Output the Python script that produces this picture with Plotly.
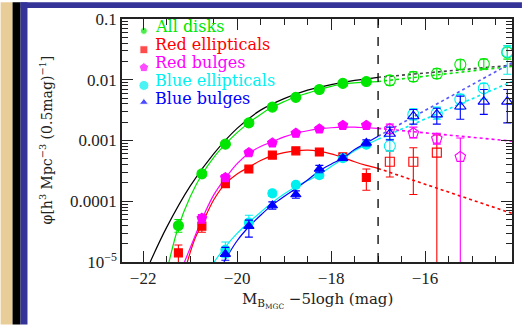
import numpy as np
import plotly.graph_objects as go

# ---------------- data (log10 phi per 0.5 mag bin) ----------------
# All disks
disk_M = [-21.25, -20.75, -20.25, -19.75, -19.25, -18.75, -18.25, -17.75, -17.25]
disk_logphi = [-4.40, -3.55, -3.06, -2.71, -2.45, -2.29, -2.16, -2.06, -2.03]
disk_lo = [-4.51, -3.59, -3.09, -2.73, -2.47, -2.31, -2.18, -2.08, -2.05]
disk_hi = [-4.30, -3.51, -3.03, -2.69, -2.43, -2.27, -2.14, -2.04, -2.01]
disk_faint_M = [-16.75, -16.25, -15.75, -15.25, -14.75, -14.25]
disk_faint_logphi = [-2.01, -1.95, -1.90, -1.75, -1.74, -1.55]
disk_faint_lo = [-2.09, -2.03, -1.98, -1.83, -1.82, -1.66]
disk_faint_hi = [-1.93, -1.87, -1.82, -1.67, -1.66, -1.44]

# Red ellipticals
rell_M = [-21.25, -20.75, -20.25, -19.75, -19.25, -18.75, -18.25, -17.75, -17.25]
rell_logphi = [-4.85, -4.41, -3.71, -3.47, -3.24, -3.17, -3.19, -3.27, -3.61]
rell_lo = [-5.05, -4.51, -3.76, -3.51, -3.28, -3.21, -3.23, -3.31, -3.82]
rell_hi = [-4.72, -4.31, -3.66, -3.43, -3.21, -3.13, -3.15, -3.23, -3.47]
rell_faint_M = [-16.75, -16.25, -15.75]
rell_faint_logphi = [-3.35, -3.35, -3.20]
rell_faint_lo = [-3.60, -3.89, -7.0]
rell_faint_hi = [-3.17, -3.12, -2.91]

# Red bulges
rbul_M = [-20.75, -20.25, -19.75, -19.25, -18.75, -18.25, -17.75, -17.25]
rbul_logphi = [-4.28, -3.61, -3.20, -3.04, -2.88, -2.81, -2.75, -2.75]
rbul_lo = [-4.36, -3.66, -3.24, -3.07, -2.91, -2.84, -2.78, -2.78]
rbul_hi = [-4.22, -3.56, -3.16, -3.01, -2.85, -2.78, -2.72, -2.72]
rbul_faint_M = [-16.75, -16.25, -15.75, -15.25]
rbul_faint_logphi = [-2.81, -2.88, -2.97, -3.27]
rbul_faint_lo = [-2.89, -2.96, -3.06, -7.0]
rbul_faint_hi = [-2.73, -2.78, -2.88, -2.96]

# Blue ellipticals
bell_M = [-20.25, -19.75, -19.25, -18.75, -18.25, -17.75, -17.25]
bell_logphi = [-4.80, -4.35, -3.87, -3.73, -3.57, -3.29, -3.07]
bell_lo = [-4.93, -4.44, -3.92, -3.77, -3.62, -3.33, -3.11]
bell_hi = [-4.67, -4.23, -3.82, -3.69, -3.52, -3.25, -3.03]
bell_faint_M = [-16.75, -16.25, -15.75, -15.25, -14.75, -14.25]
bell_faint_logphi = [-3.09, -2.57, -2.55, -2.32, -2.14, -1.54]
bell_faint_lo = [-3.17, -2.66, -2.65, -2.49, -2.32, -1.91]
bell_faint_hi = [-2.98, -2.48, -2.45, -2.24, -2.06, -1.44]

# Blue bulges
bbul_M = [-20.25, -19.75, -19.25, -18.75, -18.25, -17.75, -17.25]
bbul_logphi = [-4.87, -4.41, -4.07, -3.89, -3.47, -3.29, -3.04]
bbul_lo = [-4.97, -4.59, -4.13, -3.95, -3.53, -3.33, -3.09]
bbul_hi = [-4.76, -4.31, -4.01, -3.83, -3.41, -3.25, -2.99]
bbul_faint_M = [-16.75, -16.25, -15.75, -15.25, -14.75, -14.25]
bbul_faint_logphi = [-2.89, -2.60, -2.57, -2.44, -2.36, -2.36]
bbul_faint_lo = [-2.99, -2.73, -2.73, -2.65, -2.57, -2.71]
bbul_faint_hi = [-2.78, -2.49, -2.47, -2.27, -2.16, -2.16]

# Fitted luminosity functions (solid, bright of the limit)
total_fit_M = [-21.85, -21.5, -21.0, -20.5, -20.0, -19.5, -19.0, -18.5, -18.0, -17.5, -17.0]
total_fit_logphi = [-5.0, -4.43, -3.75, -3.22, -2.80, -2.50, -2.31, -2.17, -2.08, -2.01, -1.96]
disk_fit_M = [-21.45, -21.25, -21.0, -20.75, -20.5, -20.25, -20.0, -19.75, -19.5, -19.25,
              -19.0, -18.75, -18.5, -18.25, -18.0, -17.75, -17.5, -17.25, -17.0]
disk_fit_logphi = [-5.0, -4.42, -3.93, -3.56, -3.28, -3.06, -2.87, -2.71, -2.57, -2.45,
                   -2.36, -2.28, -2.22, -2.16, -2.11, -2.07, -2.05, -2.04, -2.03]
rell_fit_M = [-21.06, -20.9, -20.75, -20.5, -20.25, -20.0, -19.75, -19.5, -19.25, -19.0,
              -18.75, -18.5, -18.25, -18.0, -17.75, -17.5, -17.25, -17.0]
rell_fit_logphi = [-5.0, -4.62, -4.38, -3.98, -3.71, -3.55, -3.44, -3.33, -3.25, -3.20,
                   -3.17, -3.16, -3.18, -3.22, -3.28, -3.35, -3.41, -3.46]
rbul_fit_M = [-21.12, -20.9, -20.75, -20.5, -20.25, -20.0, -19.75, -19.5, -19.25, -19.0,
              -18.75, -18.5, -18.25, -18.0, -17.75, -17.5, -17.25, -17.0]
rbul_fit_logphi = [-5.0, -4.58, -4.30, -3.90, -3.62, -3.38, -3.21, -3.10, -3.02, -2.94,
                   -2.88, -2.84, -2.81, -2.79, -2.78, -2.78, -2.79, -2.80]
bell_fit_M = [-20.49, -20.25, -20.0, -19.75, -19.5, -19.25, -19.0, -18.75, -18.5, -18.25,
              -18.0, -17.75, -17.5, -17.25, -17.0]
bell_fit_logphi = [-5.0, -4.75, -4.53, -4.35, -4.18, -4.02, -3.88, -3.76, -3.66, -3.56,
                   -3.43, -3.30, -3.17, -3.07, -2.98]
bbul_fit_M = [-20.28, -20.0, -19.75, -19.5, -19.25, -19.0, -18.75, -18.5, -18.25, -18.0,
              -17.75, -17.5, -17.25, -17.0]
bbul_fit_logphi = [-5.0, -4.65, -4.42, -4.23, -4.06, -3.92, -3.79, -3.65, -3.50, -3.39,
                   -3.29, -3.15, -3.04, -2.93]

# Extrapolations faint of the limit (dotted)
extrap_M = [-17.0, -14.15]
total_extrap_logphi = [-1.96, -1.76]
disk_extrap_logphi = [-2.03, -1.78]
rell_extrap_logphi = [-3.46, -4.20]
rbul_extrap_logphi = [-2.80, -3.01]
bell_extrap_logphi = [-2.98, -2.03]
bbul_extrap_logphi = [-2.93, -1.72]

mag_limit = -17.0

x_ticks = [-22, -20, -18, -16]
y_ticks = [1e-5, 1e-4, 1e-3, 1e-2, 1e-1]
y_ticktext = ["10<sup>\u22125</sup>", "0.0001", "0.001", "0.01", "0.1"]

legend_names = ["All disks", "Red ellipticals", "Red bulges", "Blue ellipticals", "Blue bulges"]

# ---------------- styling ----------------
GREEN, RED, MAGENTA, CYAN, BLUE = "#00e600", "#ff0000", "#ff00ff", "#00f0f0", "#0000ff"
W, H = 524, 325
ML, MR, MT, MB = 122, 10, 17, 63
PW, PH = W - ML - MR, H - MT - MB


def px_x(px):
    return (px - ML) / PW


def px_y(py):
    return (H - MB - py) / PH


def lin(v):
    return [10.0 ** a for a in v]


def errs(v, lo, hi):
    plus = [10.0 ** h - 10.0 ** c for c, h in zip(v, hi)]
    minus = [10.0 ** c - 10.0 ** l for c, l in zip(v, lo)]
    return plus, minus


fig = go.Figure()


def add_line(M, logphi, color, dash="solid", width=1.2):
    fig.add_trace(go.Scatter(x=M, y=lin(logphi), mode="lines", line_shape="spline",
                             line=dict(color=color, width=width, dash=dash),
                             showlegend=False, hoverinfo="skip"))


def add_points(M, logphi, lo, hi, color, symbol, size):
    plus, minus = errs(logphi, lo, hi)
    fig.add_trace(go.Scatter(
        x=M, y=lin(logphi), mode="markers",
        marker=dict(color=color, symbol=symbol, size=size,
                    line=dict(color=color, width=1.1)),
        error_y=dict(type="data", symmetric=False, array=plus, arrayminus=minus,
                     color=color, thickness=1.1, width=4),
        showlegend=False))


# fitted curves
add_line(total_fit_M, total_fit_logphi, "#000000", width=1.2)
add_line(disk_fit_M, disk_fit_logphi, GREEN)
add_line(rell_fit_M, rell_fit_logphi, RED)
add_line(rbul_fit_M, rbul_fit_logphi, MAGENTA)
add_line(bell_fit_M, bell_fit_logphi, CYAN)
add_line(bbul_fit_M, bbul_fit_logphi, BLUE)

# extrapolations
add_line(extrap_M, total_extrap_logphi, "#444444", dash="dot", width=1.6)
add_line(extrap_M, disk_extrap_logphi, GREEN, dash="dot", width=1.6)
add_line(extrap_M, rell_extrap_logphi, RED, dash="dot", width=1.6)
add_line(extrap_M, rbul_extrap_logphi, MAGENTA, dash="dot", width=1.6)
add_line(extrap_M, bell_extrap_logphi, CYAN, dash="dot", width=1.6)
add_line(extrap_M, bbul_extrap_logphi, "#5555ff", dash="dot", width=1.6)

# faint (open) points
add_points(disk_faint_M, disk_faint_logphi, disk_faint_lo, disk_faint_hi, GREEN, "circle-open", 11)
add_points(rell_faint_M, rell_faint_logphi, rell_faint_lo, rell_faint_hi, RED, "square-open", 9)
add_points(rbul_faint_M, rbul_faint_logphi, rbul_faint_lo, rbul_faint_hi, MAGENTA, "pentagon-open", 11)
add_points(bell_faint_M, bell_faint_logphi, bell_faint_lo, bell_faint_hi, CYAN, "circle-open", 11)
add_points(bbul_faint_M, bbul_faint_logphi, bbul_faint_lo, bbul_faint_hi, BLUE, "triangle-up-open", 10)

# bright (filled) points
add_points(disk_M, disk_logphi, disk_lo, disk_hi, GREEN, "circle", 10)
add_points(rell_M, rell_logphi, rell_lo, rell_hi, RED, "square", 8)
add_points(rbul_M, rbul_logphi, rbul_lo, rbul_hi, MAGENTA, "pentagon", 10)
add_points(bell_M, bell_logphi, bell_lo, bell_hi, CYAN, "circle", 9)
add_points(bbul_M, bbul_logphi, bbul_lo, bbul_hi, BLUE, "triangle-up", 9)

# magnitude limit
fig.add_vline(x=mag_limit, line=dict(color="#000000", width=1.3, dash="dash"))

# key: symbols on an overlay axis spanning the plotting area, labels as coloured text
key_colors = [GREEN, RED, MAGENTA, CYAN, BLUE]
key_symbols = ["circle", "square", "pentagon", "circle", "triangle-up"]
key_sizes = [7, 8, 10, 10, 8]
key_rows_sym = [29, 48, 66, 84, 101]
key_rows_txt = [25, 43, 61, 79, 97]
fig.add_trace(go.Scatter(
    x=[px_x(144)] * 5, y=[px_y(r) for r in key_rows_sym], xaxis="x2", yaxis="y2",
    mode="markers", marker=dict(color=key_colors, symbol=key_symbols, size=key_sizes),
    showlegend=False, hoverinfo="skip"))
for name, col, r in zip(legend_names, key_colors, key_rows_txt):
    fig.add_annotation(x=px_x(153), y=px_y(r), xref="paper", yref="paper",
                       text=name, showarrow=False, xanchor="left", yanchor="middle",
                       font=dict(family="DejaVu Serif", size=16, color=col))

# axis titles
fig.add_annotation(x=px_x(318), y=px_y(301), xref="paper", yref="paper",
                   text="M<sub>B<sub>MGC</sub></sub> \u22125logh (mag)", showarrow=False,
                   xanchor="center", yanchor="middle",
                   font=dict(family="DejaVu Serif", size=15, color="#222222"))
fig.add_annotation(x=px_x(46), y=px_y(139), xref="paper", yref="paper", textangle=-90,
                   text="\u03c6[h<sup>3</sup> Mpc<sup>\u22123</sup> (0.5mag)<sup>\u22121</sup>]",
                   showarrow=False, xanchor="center", yanchor="middle",
                   font=dict(family="DejaVu Serif", size=14, color="#222222"))

# slide frame decorations
deco = [
    (0, 12, 0, H, "#e8cd98"),
    (12, 20, 0, H, "#000000"),
    (20, 27, 0, H, "#343498"),
    (20, W, 0, 6, "#343498"),
]
for x0, x1, y0, y1, c in deco:
    fig.add_shape(type="rect", xref="paper", yref="paper",
                  x0=px_x(x0), x1=px_x(x1), y0=px_y(y1), y1=px_y(y0),
                  fillcolor=c, line=dict(width=0), layer="above")

axis_common = dict(showline=True, linecolor="#222222", linewidth=1.5, mirror="ticks",
                   ticks="inside", ticklen=11, tickwidth=1.2, tickcolor="#222222",
                   showgrid=False, zeroline=False,
                   tickfont=dict(family="Liberation Serif", size=17, color="#222222"))

minor_y = [k * 10.0 ** n for n in range(-5, -1) for k in range(2, 10)]

fig.update_layout(
    width=W, height=H,
    margin=dict(l=ML, r=MR, t=MT, b=MB),
    paper_bgcolor="white", plot_bgcolor="white",
    showlegend=False,
    xaxis=dict(range=[-22.45, -14.15], tickvals=x_ticks,
               ticktext=["\u2212" + str(abs(v)) for v in x_ticks],
               minor=dict(dtick=0.5, tick0=-22, ticks="inside", ticklen=6,
                          tickwidth=1.0, tickcolor="#222222"),
               **axis_common),
    yaxis=dict(type="log", range=[-5, -1], tickvals=y_ticks, ticktext=y_ticktext,
               minor=dict(tickvals=minor_y, ticks="inside", ticklen=6,
                          tickwidth=1.0, tickcolor="#222222"),
               **axis_common),
    xaxis2=dict(overlaying="x", range=[0, 1], visible=False, anchor="y2"),
    yaxis2=dict(overlaying="y", range=[0, 1], visible=False, anchor="x2"),
)

fig.write_html("out.html")
